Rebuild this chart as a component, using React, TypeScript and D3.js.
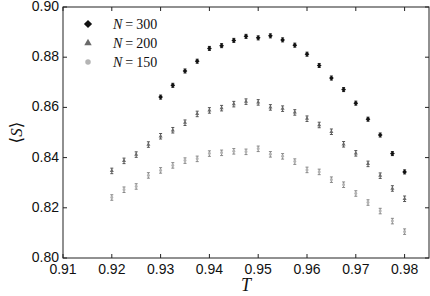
import * as d3 from "d3";

const W = 430;
const H = 296;
const margin = { top: 7, right: 1, bottom: 38, left: 63 };

// temperatures (step 0.0025)
const tempsA = d3.range(0, 21).map((i) => +(0.93 + i * 0.0025).toFixed(4));
const tempsB = d3.range(0, 25).map((i) => +(0.92 + i * 0.0025).toFixed(4));

const s300 = [
  0.8641, 0.8688, 0.8745, 0.8784, 0.8835, 0.8846, 0.8867, 0.8883, 0.8877,
  0.8885, 0.8869, 0.8848, 0.8812, 0.8767, 0.8717, 0.8671, 0.8617, 0.8553,
  0.849, 0.8416, 0.8343,
];
const s200 = [
  0.8347, 0.8387, 0.8412, 0.8452, 0.8485, 0.8509, 0.8539, 0.8574, 0.8588,
  0.8597, 0.8613, 0.8623, 0.862, 0.86, 0.8595, 0.858, 0.8555, 0.853, 0.8503,
  0.8453, 0.8417, 0.8375, 0.8328, 0.8277, 0.8236,
];
const s150 = [
  0.8241, 0.8272, 0.8285, 0.8329, 0.8349, 0.8369, 0.8388, 0.8395, 0.8416,
  0.8419, 0.8425, 0.8423, 0.8435, 0.8413, 0.8405, 0.8384, 0.8351, 0.8343,
  0.8312, 0.8292, 0.8257, 0.8221, 0.8187, 0.8147, 0.8105,
];
const err300 = 0.0008;
const err200 = 0.0011;
const err150 = 0.0011;

const xTicks = [0.91, 0.92, 0.93, 0.94, 0.95, 0.96, 0.97, 0.98];
const yTicks = [0.8, 0.82, 0.84, 0.86, 0.88, 0.9];
const legendLabels = ["300", "200", "150"];

const x = d3
  .scaleLinear()
  .domain([0.91, 0.985])
  .range([margin.left, W - margin.right]);
const y = d3
  .scaleLinear()
  .domain([0.8, 0.9])
  .range([H - margin.bottom, margin.top]);

type Series = {
  t: number[];
  v: number[];
  err: number;
  fill: string;
  bar: string;
  shape: d3.SymbolType;
  rot: number;
  size: number;
  legendSize: number;
};

// diamond = square turned 45deg (d3's symbolDiamond is too tall)
const series: Series[] = [
  { t: tempsA, v: s300, err: err300, fill: "#111", bar: "#222", shape: d3.symbolSquare, rot: 45, size: 11, legendSize: 34 },
  { t: tempsB, v: s200, err: err200, fill: "#6a6a6a", bar: "#555", shape: d3.symbolTriangle, rot: 0, size: 7, legendSize: 24 },
  { t: tempsB, v: s150, err: err150, fill: "#b4b4b4", bar: "#888", shape: d3.symbolCircle, rot: 0, size: 7, legendSize: 24 },
];

const sym = (s: Series, size: number) => d3.symbol(s.shape, size)()!;

export default function App() {
  const x0 = margin.left;
  const x1 = W - margin.right;
  const y0 = H - margin.bottom;
  const y1 = margin.top;
  const tickFont = "Liberation Sans, Arial, sans-serif";
  const serif = "Liberation Serif, DejaVu Serif, serif";
  return (
    <svg
      width={W}
      height={H}
      style={{ position: "absolute", left: 0, top: 0, background: "#fff" }}
    >
      {/* data */}
      {series.map((s, si) => (
        <g key={si}>
          {s.t.map((t, i) => {
            const cx = x(t);
            const cy = y(s.v[i]);
            const ya = y(s.v[i] + s.err);
            const yb = y(s.v[i] - s.err);
            return (
              <g key={i}>
                <line x1={cx} x2={cx} y1={ya} y2={yb} stroke={s.bar} strokeWidth={1} />
                <line x1={cx - 1.5} x2={cx + 1.5} y1={ya} y2={ya} stroke={s.bar} strokeWidth={1} />
                <line x1={cx - 1.5} x2={cx + 1.5} y1={yb} y2={yb} stroke={s.bar} strokeWidth={1} />
                <path
                  d={sym(s, s.size)}
                  transform={`translate(${cx},${cy}) rotate(${s.rot})`}
                  fill={s.fill}
                />
              </g>
            );
          })}
        </g>
      ))}

      {/* frame */}
      <rect x={x0} y={y1} width={x1 - x0} height={y0 - y1} fill="none" stroke="#222" strokeWidth={1} />

      {/* x ticks */}
      {xTicks.map((t) => (
        <g key={t}>
          <line x1={x(t)} x2={x(t)} y1={y0} y2={y0 - 4} stroke="#222" />
          <line x1={x(t)} x2={x(t)} y1={y1} y2={y1 + 4} stroke="#222" />
          <text x={x(t)} y={y0 + 16} textAnchor="middle" fontFamily={tickFont} fontSize={14} fill="#111">
            {d3.format(".2f")(t)}
          </text>
        </g>
      ))}

      {/* y ticks */}
      {yTicks.map((t) => (
        <g key={t}>
          <line x1={x0} x2={x0 + 4} y1={y(t)} y2={y(t)} stroke="#222" />
          <line x1={x1} x2={x1 - 4} y1={y(t)} y2={y(t)} stroke="#222" />
          <text x={x0 - 4} y={y(t) + 4} textAnchor="end" fontFamily={tickFont} fontSize={14} fill="#111">
            {d3.format(".2f")(t)}
          </text>
        </g>
      ))}

      {/* axis labels */}
      <text x={(x0 + x1) / 2} y={291} textAnchor="middle" fontFamily={serif} fontStyle="italic" fontSize={18} fill="#111">
        T
      </text>
      <text
        transform={`translate(22,${(y0 + y1) / 2}) rotate(-90)`}
        textAnchor="middle"
        fontFamily={serif}
        fontSize={17}
        fill="#111"
      >
        {"\u27E8"}
        <tspan fontStyle="italic">S</tspan>
        {"\u27E9"}
      </text>

      {/* legend */}
      {series.map((s, i) => {
        const ly = 24 + i * 19;
        return (
          <g key={i}>
            <path d={sym(s, s.legendSize)} transform={`translate(88,${ly}) rotate(${s.rot})`} fill={s.fill} />
            <text x={113} y={ly + 5} fontFamily={serif} fontSize={14} fill="#111">
              <tspan fontStyle="italic">N</tspan>
              <tspan dx={3}>=</tspan>
              <tspan dx={3}>{legendLabels[i]}</tspan>
            </text>
          </g>
        );
      })}
    </svg>
  );
}
